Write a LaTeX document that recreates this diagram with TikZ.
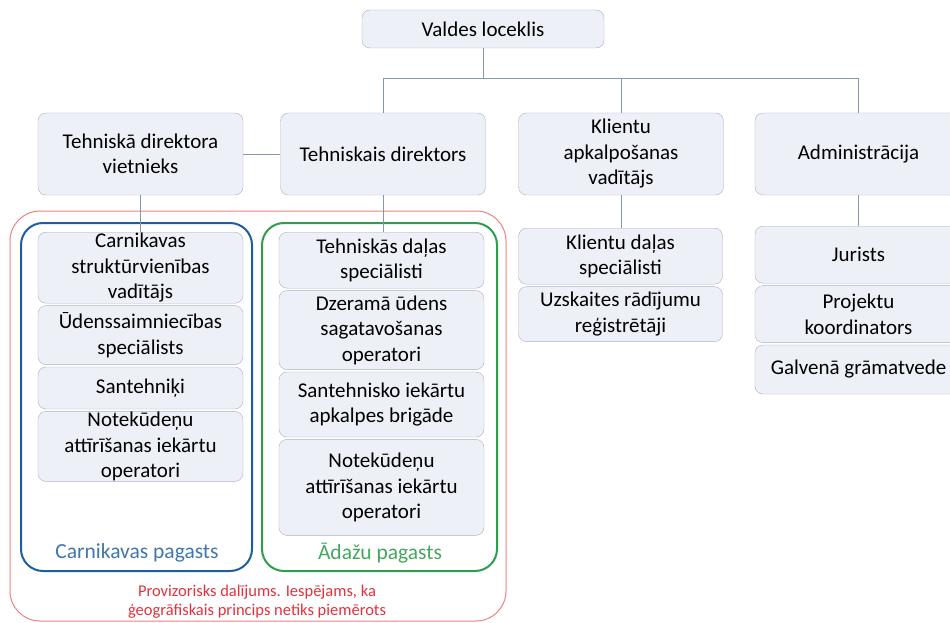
\documentclass[tikz,border=0pt]{standalone}
\usepackage{fontspec}
\setmainfont{Carlito}
\usepackage{tikz}
\usetikzlibrary{positioning}
\usepackage{xcolor}
\definecolor{boxfill}{HTML}{EDF0F7}
\definecolor{boxline}{HTML}{A8B0C2}
\definecolor{linkcol}{HTML}{8596B4}
\definecolor{carblue}{HTML}{1F5E9E}
\definecolor{adagreen}{HTML}{2E9E4C}
\definecolor{provred}{HTML}{EE8080}
\definecolor{provtext}{HTML}{E4303C}

\begin{document}
\begin{tikzpicture}[x=1pt,y=-1pt,
		orgbox/.style={rectangle, rounded corners=8pt, draw=boxline, fill=boxfill, align=center, inner sep=0pt, font=\fontsize{21}{25.5}\selectfont},
		headbox/.style={orgbox, minimum width=205pt, minimum height=82pt},
		leftbox/.style={orgbox, minimum width=205pt},
		rightbox/.style={orgbox, minimum width=205pt},
		area/.style={rounded corners=22pt, line width=2pt},
		link/.style={draw=linkcol, line width=0.8pt},
		]
		\useasboundingbox (0,0) rectangle (950,623);
		
		%Areas
		\draw[provred, line width=1pt, rounded corners=30pt] (10,211) rectangle (506,621);
		\draw[area, carblue] (21,223) rectangle (252,571);
		\draw[area, adagreen] (262,223) rectangle (497,571);
		
		%Nodes
		\node[orgbox, minimum width=242pt, minimum height=38pt] (valdes) at (483,29) {Valdes loceklis};
		\node[headbox]  (vietnieks) at (140.5,154) {Tehniskā direktora\\vietnieks};
		\node[headbox]  (tehdir)    at (383,154)   {Tehniskais direktors};
		\node[headbox]  (klienti)   at (621,154)   {Klientu\\apkalpošanas\\vadītājs};
		\node[headbox, minimum width=207pt] (admin) at (858.5,154) {Administrācija};
		
		% Carnikava
		\node[leftbox, minimum height=71pt, anchor=north] (car-1) at (140.5,232) {Carnikavas\\struktūrvienības\\vadītājs};
		\node[leftbox, minimum height=59pt] (car-2) [below=2pt of car-1] {Ūdenssaimniecības\\speciālists};
		\node[leftbox, minimum height=42pt] (car-3) [below=2pt of car-2] {Santehniķi};
		\node[leftbox, minimum height=70pt] (car-4) [below=2pt of car-3] {Notekūdeņu\\attīrīšanas iekārtu\\operatori};
		
		% Adazi
		\node[rightbox, minimum height=56pt, anchor=north] (ada-1) at (381.5,232) {Tehniskās daļas\\speciālisti};
		\node[rightbox, minimum height=79pt] (ada-2) [below=2pt of ada-1] {Dzeramā ūdens\\sagatavošanas\\operatori};
		\node[rightbox, minimum height=65pt] (ada-3) [below=2pt of ada-2] {Santehnisko iekārtu\\apkalpes brigāde};
		\node[rightbox, minimum height=96pt] (ada-4) [below=2pt of ada-3] {Notekūdeņu\\attīrīšanas iekārtu\\operatori};
		
		% Klienti
		\node[orgbox, minimum width=204pt, minimum height=56pt, anchor=north] (kl-1) at (620.5,228) {Klientu daļas\\speciālisti};
		\node[orgbox, minimum width=204pt, minimum height=55pt] (kl-2) [below=2pt of kl-1] {Uzskaites rādījumu\\reģistrētāji};
		
		% Administracija
		\node[orgbox, minimum width=207pt, minimum height=57pt, anchor=north] (adm-1) at (858.5,226) {Jurists};
		\node[orgbox, minimum width=207pt, minimum height=57pt] (adm-2) [below=2pt of adm-1] {Projektu\\koordinators};
		\node[orgbox, minimum width=207pt, minimum height=49pt] (adm-3) [below=2pt of adm-2] {Galvenā grāmatvede};
		
		% Labels
		\node[text=carblue!85, font=\fontsize{21.5}{25}\selectfont] (car-label) at (137,553) {Carnikavas pagasts};
		\node[text=adagreen!90, font=\fontsize{21.5}{25}\selectfont] (ada-label) at (380,553) {Ādažu pagasts};
		\node[text=provtext, align=center, font=\fontsize{16.5}{19}\selectfont] (prov-label) at (257,602) {Provizorisks dalījums. Iespējams, ka\\ģeogrāfiskais princips netiks piemērots};
		
		%Lines
		\coordinate (bus-l) at (383,78);
		\coordinate (bus-r) at (858.5,78);
		\draw[link] (valdes.south) -- (valdes.south |- bus-l);
		\draw[link] (tehdir.north) -- (bus-l) -- (bus-r) -- (admin.north);
		\draw[link] (klienti.north) -- (klienti.north |- bus-l);
		\draw[link] (vietnieks.east) -- (tehdir.west);
		\draw[link] (vietnieks.south) -- (car-1.north);
		\draw[link] (tehdir.south) -- (ada-1.north -| tehdir.south);
		\draw[link] (klienti.south) -- (kl-1.north -| klienti.south);
		\draw[link] (admin.south) -- (adm-1.north);
		
	\end{tikzpicture}
\end{document}
